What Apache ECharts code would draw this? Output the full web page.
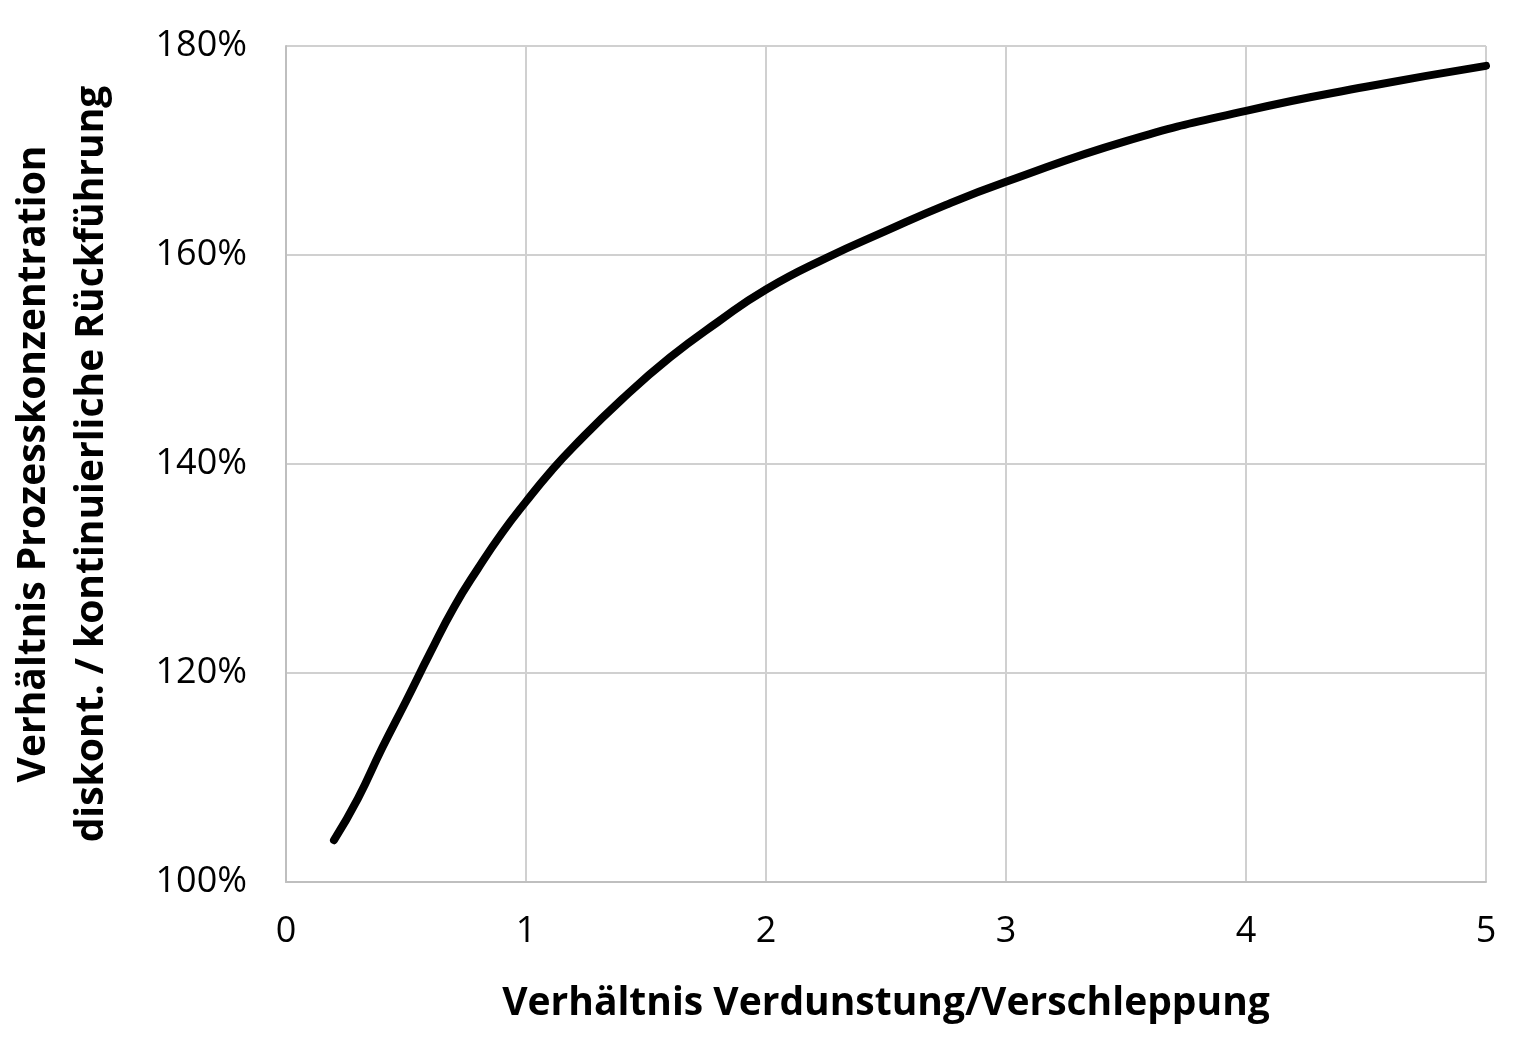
<!DOCTYPE html>
<html>
<head>
<meta charset="utf-8">
<script src="https://cdn.jsdelivr.net/npm/echarts@6/dist/echarts.min.js"></script>
<style>
html,body{margin:0;padding:0;background:#fff;}
#chart{width:1517px;height:1049px;}
</style>
</head>
<body>
<div id="chart"></div>
<script>
const xValues = [0.2, 0.3, 0.4, 0.5, 0.6, 0.7, 0.8, 0.9, 1.0, 1.1, 1.2, 1.4, 1.6, 1.8, 2.0, 2.25, 2.5, 2.75, 3.0, 3.5, 4.0, 4.5, 5.0];
const yValues = [104.0, 108.0, 112.8, 117.3, 121.9, 126.3, 130.0, 133.4, 136.4, 139.2, 141.7, 146.2, 150.2, 153.6, 156.7, 159.7, 162.3, 164.8, 167.0, 170.9, 173.8, 176.1, 178.1];
const xTitle = 'Verhältnis Verdunstung/Verschleppung';
const yTitle = 'Verhältnis Prozesskonzentration\ndiskont. / kontinuierliche Rückführung';

const chart = echarts.init(document.getElementById('chart'));
const font = '"Open Sans", Lato, sans-serif';
chart.setOption({
  animation: false,
  grid: { left: 286, right: 31, top: 46, bottom: 167, outerBoundsMode: 'none', containLabel: false },
  xAxis: {
    type: 'value', min: 0, max: 5, interval: 1,
    name: xTitle, nameLocation: 'middle', nameGap: 102,
    nameTextStyle: { fontFamily: font, fontWeight: 'bold', fontSize: 39, color: '#000' },
    axisLine: { show: true, lineStyle: { color: '#bfbfbf', width: 2 } },
    axisTick: { show: false },
    axisLabel: { fontFamily: font, fontSize: 36, color: '#000', margin: 32 },
    splitLine: { show: true, lineStyle: { color: '#d0d0d0', width: 2 } }
  },
  yAxis: {
    type: 'value', min: 100, max: 180, interval: 20,
    name: yTitle, nameLocation: 'middle', nameGap: 165, nameRotate: 90,
    nameTextStyle: { fontFamily: font, fontWeight: 'bold', fontSize: 39, color: '#000', lineHeight: 58 },
    axisLine: { show: true, lineStyle: { color: '#bfbfbf', width: 2 } },
    axisTick: { show: false },
    axisLabel: { fontFamily: font, fontSize: 36, color: '#000', margin: 39, formatter: '{value}%' },
    splitLine: { show: true, lineStyle: { color: '#d0d0d0', width: 2 } }
  },
  series: [{
    type: 'line',
    data: xValues.map((x, i) => [x, yValues[i]]),
    smooth: 0.5,
    showSymbol: false,
    lineStyle: { color: '#000', width: 8, cap: 'round', join: 'round' }
  }]
});
</script>
</body>
</html>
